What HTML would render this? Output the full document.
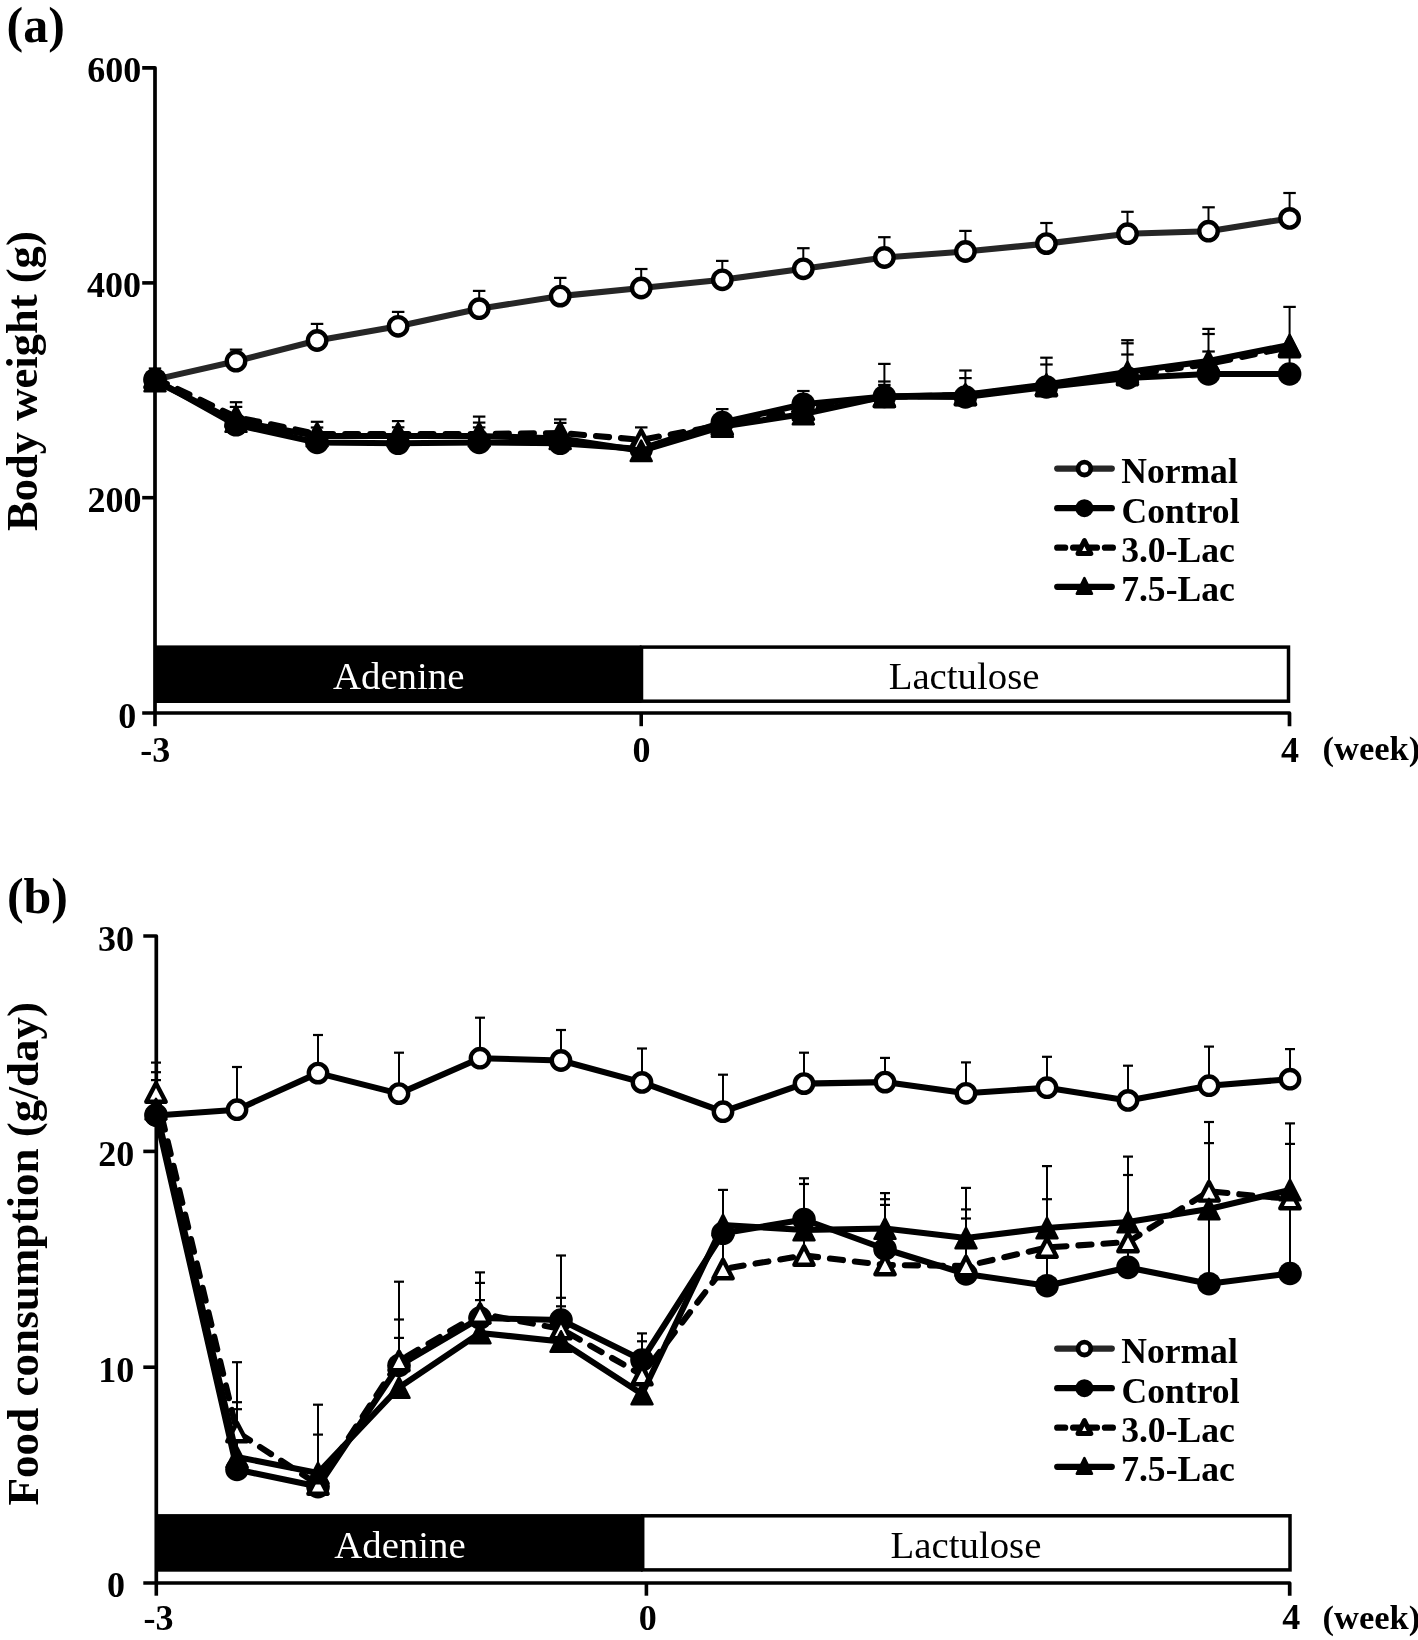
<!DOCTYPE html><html><head><meta charset="utf-8"><style>html,body{margin:0;padding:0;background:#fff;width:1418px;height:1640px;overflow:hidden;font-family:"Liberation Serif",serif}svg{display:block;filter:grayscale(1)}</style></head><body>
<svg width="1418" height="1640" viewBox="0 0 1418 1640">
<rect width="1418" height="1640" fill="#fff"/>
<path d="M142.2,67.8 H155 V713" fill="none" stroke="#000" stroke-width="3.7" stroke-linejoin="round"/>
<line x1="142.2" y1="282.9" x2="155" y2="282.9" stroke="#000" stroke-width="3.6"/>
<line x1="142.2" y1="497.7" x2="155" y2="497.7" stroke="#000" stroke-width="3.6"/>
<path d="M142.2,713 H1289.5 V726.2" fill="none" stroke="#000" stroke-width="3.7" stroke-linejoin="round"/>
<line x1="155" y1="713" x2="155" y2="726.2" stroke="#000" stroke-width="3.6"/>
<line x1="641.2" y1="713" x2="641.2" y2="726.2" stroke="#000" stroke-width="3.6"/>
<rect x="155" y="645.4" width="486.5" height="57.6" fill="#000"/>
<rect x="641.5" y="647.1" width="647" height="54.1" fill="#fff" stroke="#000" stroke-width="3.5"/>
<text x="398.7" y="689.2" font-size="38.8" font-weight="normal" text-anchor="middle" fill="#fff" font-family="Liberation Serif" >Adenine</text><text x="964.1" y="689.2" font-size="38.8" font-weight="normal" text-anchor="middle" fill="#000" font-family="Liberation Serif" >Lactulose</text>
<text x="141.3" y="82" font-size="36" font-weight="bold" text-anchor="end" fill="#000" font-family="Liberation Serif" >600</text>
<text x="141.1" y="297" font-size="36" font-weight="bold" text-anchor="end" fill="#000" font-family="Liberation Serif" >400</text>
<text x="141.5" y="512" font-size="36" font-weight="bold" text-anchor="end" fill="#000" font-family="Liberation Serif" >200</text>
<text x="136.3" y="728" font-size="36" font-weight="bold" text-anchor="end" fill="#000" font-family="Liberation Serif" >0</text>
<text x="155.3" y="762" font-size="36" font-weight="bold" text-anchor="middle" fill="#000" font-family="Liberation Serif" >-3</text>
<text x="641.6" y="762" font-size="36" font-weight="bold" text-anchor="middle" fill="#000" font-family="Liberation Serif" >0</text>
<text x="1290.1" y="761.5" font-size="36" font-weight="bold" text-anchor="middle" fill="#000" font-family="Liberation Serif" >4</text>
<text x="1322.5" y="759.5" font-size="34.5" font-weight="bold" text-anchor="start" fill="#000" font-family="Liberation Serif" >(week)</text>
<text x="6.6" y="42" font-size="50" font-weight="bold" text-anchor="start" fill="#000" font-family="Liberation Serif" >(a)</text>
<text transform="translate(37.3,531) rotate(-90)" font-size="44.6" font-weight="bold" font-family="Liberation Serif">Body weight (g)</text>
<polyline points="155,379.6 236,361.2 317.1,340.5 398.1,326.3 479.2,308.7 560.2,296.1 641.2,288 722.3,279.8 803.3,268.8 884.4,257.5 965.4,251.5 1046.4,243.6 1127.5,233.7 1208.5,231.2 1289.6,218.4" fill="none" stroke="#262626" stroke-width="6.1" stroke-linejoin="round"/>
<line x1="155" y1="379.6" x2="155" y2="368.5" stroke="#000" stroke-width="2"/><line x1="148.8" y1="368.5" x2="161.2" y2="368.5" stroke="#000" stroke-width="2.2"/>
<line x1="236" y1="361.2" x2="236" y2="349.6" stroke="#000" stroke-width="2"/><line x1="229.8" y1="349.6" x2="242.3" y2="349.6" stroke="#000" stroke-width="2.2"/>
<line x1="317.1" y1="340.5" x2="317.1" y2="323.9" stroke="#000" stroke-width="2"/><line x1="310.8" y1="323.9" x2="323.3" y2="323.9" stroke="#000" stroke-width="2.2"/>
<line x1="398.1" y1="326.3" x2="398.1" y2="311.9" stroke="#000" stroke-width="2"/><line x1="391.9" y1="311.9" x2="404.4" y2="311.9" stroke="#000" stroke-width="2.2"/>
<line x1="479.2" y1="308.7" x2="479.2" y2="290.9" stroke="#000" stroke-width="2"/><line x1="472.9" y1="290.9" x2="485.4" y2="290.9" stroke="#000" stroke-width="2.2"/>
<line x1="560.2" y1="296.1" x2="560.2" y2="277.9" stroke="#000" stroke-width="2"/><line x1="554" y1="277.9" x2="566.5" y2="277.9" stroke="#000" stroke-width="2.2"/>
<line x1="641.2" y1="288" x2="641.2" y2="269" stroke="#000" stroke-width="2"/><line x1="635" y1="269" x2="647.5" y2="269" stroke="#000" stroke-width="2.2"/>
<line x1="722.3" y1="279.8" x2="722.3" y2="260.9" stroke="#000" stroke-width="2"/><line x1="716" y1="260.9" x2="728.5" y2="260.9" stroke="#000" stroke-width="2.2"/>
<line x1="803.3" y1="268.8" x2="803.3" y2="248.2" stroke="#000" stroke-width="2"/><line x1="797.1" y1="248.2" x2="809.6" y2="248.2" stroke="#000" stroke-width="2.2"/>
<line x1="884.4" y1="257.5" x2="884.4" y2="237.2" stroke="#000" stroke-width="2"/><line x1="878.1" y1="237.2" x2="890.6" y2="237.2" stroke="#000" stroke-width="2.2"/>
<line x1="965.4" y1="251.5" x2="965.4" y2="230.9" stroke="#000" stroke-width="2"/><line x1="959.2" y1="230.9" x2="971.7" y2="230.9" stroke="#000" stroke-width="2.2"/>
<line x1="1046.4" y1="243.6" x2="1046.4" y2="223" stroke="#000" stroke-width="2"/><line x1="1040.2" y1="223" x2="1052.7" y2="223" stroke="#000" stroke-width="2.2"/>
<line x1="1127.5" y1="233.7" x2="1127.5" y2="211.8" stroke="#000" stroke-width="2"/><line x1="1121.2" y1="211.8" x2="1133.7" y2="211.8" stroke="#000" stroke-width="2.2"/>
<line x1="1208.5" y1="231.2" x2="1208.5" y2="207.3" stroke="#000" stroke-width="2"/><line x1="1202.3" y1="207.3" x2="1214.8" y2="207.3" stroke="#000" stroke-width="2.2"/>
<line x1="1289.6" y1="218.4" x2="1289.6" y2="193" stroke="#000" stroke-width="2"/><line x1="1283.3" y1="193" x2="1295.8" y2="193" stroke="#000" stroke-width="2.2"/>
<circle cx="155" cy="379.6" r="9.2" fill="#fff" stroke="#000" stroke-width="4.4"/>
<circle cx="236" cy="361.2" r="9.2" fill="#fff" stroke="#000" stroke-width="4.4"/>
<circle cx="317.1" cy="340.5" r="9.2" fill="#fff" stroke="#000" stroke-width="4.4"/>
<circle cx="398.1" cy="326.3" r="9.2" fill="#fff" stroke="#000" stroke-width="4.4"/>
<circle cx="479.2" cy="308.7" r="9.2" fill="#fff" stroke="#000" stroke-width="4.4"/>
<circle cx="560.2" cy="296.1" r="9.2" fill="#fff" stroke="#000" stroke-width="4.4"/>
<circle cx="641.2" cy="288" r="9.2" fill="#fff" stroke="#000" stroke-width="4.4"/>
<circle cx="722.3" cy="279.8" r="9.2" fill="#fff" stroke="#000" stroke-width="4.4"/>
<circle cx="803.3" cy="268.8" r="9.2" fill="#fff" stroke="#000" stroke-width="4.4"/>
<circle cx="884.4" cy="257.5" r="9.2" fill="#fff" stroke="#000" stroke-width="4.4"/>
<circle cx="965.4" cy="251.5" r="9.2" fill="#fff" stroke="#000" stroke-width="4.4"/>
<circle cx="1046.4" cy="243.6" r="9.2" fill="#fff" stroke="#000" stroke-width="4.4"/>
<circle cx="1127.5" cy="233.7" r="9.2" fill="#fff" stroke="#000" stroke-width="4.4"/>
<circle cx="1208.5" cy="231.2" r="9.2" fill="#fff" stroke="#000" stroke-width="4.4"/>
<circle cx="1289.6" cy="218.4" r="9.2" fill="#fff" stroke="#000" stroke-width="4.4"/>
<line x1="236" y1="424.8" x2="236" y2="402.2" stroke="#000" stroke-width="2"/><line x1="229.8" y1="402.2" x2="242.3" y2="402.2" stroke="#000" stroke-width="2.2"/><line x1="229.8" y1="406.9" x2="242.3" y2="406.9" stroke="#000" stroke-width="2.2"/>
<line x1="317.1" y1="442.5" x2="317.1" y2="421.8" stroke="#000" stroke-width="2"/><line x1="310.8" y1="421.8" x2="323.3" y2="421.8" stroke="#000" stroke-width="2.2"/><line x1="310.8" y1="427.5" x2="323.3" y2="427.5" stroke="#000" stroke-width="2.2"/>
<line x1="398.1" y1="443.3" x2="398.1" y2="421.1" stroke="#000" stroke-width="2"/><line x1="391.9" y1="421.1" x2="404.4" y2="421.1" stroke="#000" stroke-width="2.2"/><line x1="391.9" y1="427.3" x2="404.4" y2="427.3" stroke="#000" stroke-width="2.2"/>
<line x1="479.2" y1="442.5" x2="479.2" y2="416.6" stroke="#000" stroke-width="2"/><line x1="472.9" y1="416.6" x2="485.4" y2="416.6" stroke="#000" stroke-width="2.2"/><line x1="472.9" y1="422.6" x2="485.4" y2="422.6" stroke="#000" stroke-width="2.2"/><line x1="472.9" y1="427.4" x2="485.4" y2="427.4" stroke="#000" stroke-width="2.2"/>
<line x1="560.2" y1="443.3" x2="560.2" y2="419.4" stroke="#000" stroke-width="2"/><line x1="554" y1="419.4" x2="566.5" y2="419.4" stroke="#000" stroke-width="2.2"/><line x1="554" y1="422.9" x2="566.5" y2="422.9" stroke="#000" stroke-width="2.2"/>
<line x1="641.2" y1="450.8" x2="641.2" y2="427.4" stroke="#000" stroke-width="2"/><line x1="635" y1="427.4" x2="647.5" y2="427.4" stroke="#000" stroke-width="2.2"/>
<line x1="722.3" y1="426.5" x2="722.3" y2="409.1" stroke="#000" stroke-width="2"/><line x1="716" y1="409.1" x2="728.5" y2="409.1" stroke="#000" stroke-width="2.2"/>
<line x1="803.3" y1="414" x2="803.3" y2="391" stroke="#000" stroke-width="2"/><line x1="797.1" y1="391" x2="809.6" y2="391" stroke="#000" stroke-width="2.2"/>
<line x1="884.4" y1="397" x2="884.4" y2="363.9" stroke="#000" stroke-width="2"/><line x1="878.1" y1="363.9" x2="890.6" y2="363.9" stroke="#000" stroke-width="2.2"/><line x1="878.1" y1="381.5" x2="890.6" y2="381.5" stroke="#000" stroke-width="2.2"/><line x1="878.1" y1="384.9" x2="890.6" y2="384.9" stroke="#000" stroke-width="2.2"/>
<line x1="965.4" y1="397" x2="965.4" y2="370.5" stroke="#000" stroke-width="2"/><line x1="959.2" y1="370.5" x2="971.7" y2="370.5" stroke="#000" stroke-width="2.2"/><line x1="959.2" y1="378.1" x2="971.7" y2="378.1" stroke="#000" stroke-width="2.2"/>
<line x1="1046.4" y1="387" x2="1046.4" y2="357.7" stroke="#000" stroke-width="2"/><line x1="1040.2" y1="357.7" x2="1052.7" y2="357.7" stroke="#000" stroke-width="2.2"/><line x1="1040.2" y1="364.5" x2="1052.7" y2="364.5" stroke="#000" stroke-width="2.2"/>
<line x1="1127.5" y1="378" x2="1127.5" y2="340.2" stroke="#000" stroke-width="2"/><line x1="1121.2" y1="340.2" x2="1133.7" y2="340.2" stroke="#000" stroke-width="2.2"/><line x1="1121.2" y1="343.3" x2="1133.7" y2="343.3" stroke="#000" stroke-width="2.2"/><line x1="1121.2" y1="354.5" x2="1133.7" y2="354.5" stroke="#000" stroke-width="2.2"/>
<line x1="1208.5" y1="374" x2="1208.5" y2="328.9" stroke="#000" stroke-width="2"/><line x1="1202.3" y1="328.9" x2="1214.8" y2="328.9" stroke="#000" stroke-width="2.2"/><line x1="1202.3" y1="334" x2="1214.8" y2="334" stroke="#000" stroke-width="2.2"/><line x1="1202.3" y1="351.5" x2="1214.8" y2="351.5" stroke="#000" stroke-width="2.2"/>
<line x1="1289.6" y1="374" x2="1289.6" y2="306.9" stroke="#000" stroke-width="2"/><line x1="1283.3" y1="306.9" x2="1295.8" y2="306.9" stroke="#000" stroke-width="2.2"/>
<polyline points="155,379.7 236,424.8 317.1,442.5 398.1,443.3 479.2,442.5 560.2,443.3 641.2,449 722.3,422.5 803.3,404.2 884.4,396.5 965.4,397 1046.4,387 1127.5,378 1208.5,374 1289.6,374" fill="none" stroke="#000" stroke-width="6.1" stroke-linejoin="round"/>
<circle cx="155" cy="379.7" r="11.8" fill="#000"/>
<circle cx="236" cy="424.8" r="11.8" fill="#000"/>
<circle cx="317.1" cy="442.5" r="11.8" fill="#000"/>
<circle cx="398.1" cy="443.3" r="11.8" fill="#000"/>
<circle cx="479.2" cy="442.5" r="11.8" fill="#000"/>
<circle cx="560.2" cy="443.3" r="11.8" fill="#000"/>
<circle cx="641.2" cy="449" r="11.8" fill="#000"/>
<circle cx="722.3" cy="422.5" r="11.8" fill="#000"/>
<circle cx="803.3" cy="404.2" r="11.8" fill="#000"/>
<circle cx="884.4" cy="396.5" r="11.8" fill="#000"/>
<circle cx="965.4" cy="397" r="11.8" fill="#000"/>
<circle cx="1046.4" cy="387" r="11.8" fill="#000"/>
<circle cx="1127.5" cy="378" r="11.8" fill="#000"/>
<circle cx="1208.5" cy="374" r="11.8" fill="#000"/>
<circle cx="1289.6" cy="374" r="11.8" fill="#000"/>
<polyline points="155,378 236,417 317.1,434 398.1,434 479.2,434 560.2,433 641.2,439.8 722.3,425 803.3,410 884.4,397 965.4,395 1046.4,386 1127.5,375 1208.5,364 1289.6,347" fill="none" stroke="#000" stroke-width="6.1" stroke-linejoin="round" stroke-linecap="round" stroke-dasharray="13.1 12"/>
<polygon points="155,368.7 164.7,387.3 145.3,387.3" fill="#fff" stroke="#000" stroke-width="4.4" stroke-linejoin="round"/>
<polygon points="236,407.7 245.7,426.3 226.4,426.3" fill="#fff" stroke="#000" stroke-width="4.4" stroke-linejoin="round"/>
<polygon points="317.1,424.7 326.7,443.3 307.4,443.3" fill="#fff" stroke="#000" stroke-width="4.4" stroke-linejoin="round"/>
<polygon points="398.1,424.7 407.8,443.3 388.5,443.3" fill="#fff" stroke="#000" stroke-width="4.4" stroke-linejoin="round"/>
<polygon points="479.2,424.7 488.8,443.3 469.5,443.3" fill="#fff" stroke="#000" stroke-width="4.4" stroke-linejoin="round"/>
<polygon points="560.2,423.7 569.9,442.3 550.6,442.3" fill="#fff" stroke="#000" stroke-width="4.4" stroke-linejoin="round"/>
<polygon points="641.2,430.5 650.9,449.1 631.6,449.1" fill="#fff" stroke="#000" stroke-width="4.4" stroke-linejoin="round"/>
<polygon points="722.3,415.7 731.9,434.3 712.6,434.3" fill="#fff" stroke="#000" stroke-width="4.4" stroke-linejoin="round"/>
<polygon points="803.3,400.7 813,419.3 793.7,419.3" fill="#fff" stroke="#000" stroke-width="4.4" stroke-linejoin="round"/>
<polygon points="884.4,387.7 894,406.3 874.7,406.3" fill="#fff" stroke="#000" stroke-width="4.4" stroke-linejoin="round"/>
<polygon points="965.4,385.7 975.1,404.3 955.8,404.3" fill="#fff" stroke="#000" stroke-width="4.4" stroke-linejoin="round"/>
<polygon points="1046.4,376.7 1056.1,395.3 1036.8,395.3" fill="#fff" stroke="#000" stroke-width="4.4" stroke-linejoin="round"/>
<polygon points="1127.5,365.7 1137.1,384.3 1117.8,384.3" fill="#fff" stroke="#000" stroke-width="4.4" stroke-linejoin="round"/>
<polygon points="1208.5,354.7 1218.2,373.3 1198.9,373.3" fill="#fff" stroke="#000" stroke-width="4.4" stroke-linejoin="round"/>
<polygon points="1289.6,337.7 1299.2,356.3 1279.9,356.3" fill="#fff" stroke="#000" stroke-width="4.4" stroke-linejoin="round"/>
<polyline points="155,381 236,421.5 317.1,436 398.1,436 479.2,436 560.2,438.6 641.2,450.8 722.3,426.5 803.3,414 884.4,396.5 965.4,394.7 1046.4,384.5 1127.5,372 1208.5,361 1289.6,345" fill="none" stroke="#000" stroke-width="6.1" stroke-linejoin="round"/>
<polygon points="155,370.8 165.5,391.2 144.5,391.2" fill="#000" stroke="#000" stroke-width="2.5" stroke-linejoin="round"/>
<polygon points="236,411.2 246.5,431.8 225.5,431.8" fill="#000" stroke="#000" stroke-width="2.5" stroke-linejoin="round"/>
<polygon points="317.1,425.8 327.6,446.2 306.6,446.2" fill="#000" stroke="#000" stroke-width="2.5" stroke-linejoin="round"/>
<polygon points="398.1,425.8 408.6,446.2 387.6,446.2" fill="#000" stroke="#000" stroke-width="2.5" stroke-linejoin="round"/>
<polygon points="479.2,425.8 489.7,446.2 468.7,446.2" fill="#000" stroke="#000" stroke-width="2.5" stroke-linejoin="round"/>
<polygon points="560.2,428.4 570.7,448.9 549.7,448.9" fill="#000" stroke="#000" stroke-width="2.5" stroke-linejoin="round"/>
<polygon points="641.2,440.6 651.7,461.1 630.7,461.1" fill="#000" stroke="#000" stroke-width="2.5" stroke-linejoin="round"/>
<polygon points="722.3,416.2 732.8,436.8 711.8,436.8" fill="#000" stroke="#000" stroke-width="2.5" stroke-linejoin="round"/>
<polygon points="803.3,403.8 813.8,424.2 792.8,424.2" fill="#000" stroke="#000" stroke-width="2.5" stroke-linejoin="round"/>
<polygon points="884.4,386.2 894.9,406.8 873.9,406.8" fill="#000" stroke="#000" stroke-width="2.5" stroke-linejoin="round"/>
<polygon points="965.4,384.4 975.9,404.9 954.9,404.9" fill="#000" stroke="#000" stroke-width="2.5" stroke-linejoin="round"/>
<polygon points="1046.4,374.2 1056.9,394.8 1035.9,394.8" fill="#000" stroke="#000" stroke-width="2.5" stroke-linejoin="round"/>
<polygon points="1127.5,361.8 1138,382.2 1117,382.2" fill="#000" stroke="#000" stroke-width="2.5" stroke-linejoin="round"/>
<polygon points="1208.5,350.8 1219,371.2 1198,371.2" fill="#000" stroke="#000" stroke-width="2.5" stroke-linejoin="round"/>
<polygon points="1289.6,334.8 1300.1,355.2 1279.1,355.2" fill="#000" stroke="#000" stroke-width="2.5" stroke-linejoin="round"/>
<line x1="1057.2" y1="468.6" x2="1111.8" y2="468.6" stroke="#262626" stroke-width="6.2" stroke-linecap="round"/>
<circle cx="1084.4" cy="468.6" r="6.4" fill="#fff" stroke="#000" stroke-width="4.8"/>
<line x1="1057.2" y1="508.2" x2="1111.8" y2="508.2" stroke="#000" stroke-width="6.2" stroke-linecap="round"/>
<circle cx="1084.4" cy="508.2" r="9" fill="#000"/>
<line x1="1057.2" y1="547.7" x2="1112.9" y2="547.7" stroke="#000" stroke-width="6.2" stroke-linecap="round" stroke-dasharray="8 7.9"/>
<polygon points="1084.4,540.6 1090.8,553.6 1078,553.6" fill="#fff" stroke="#000" stroke-width="5" stroke-linejoin="round"/>
<line x1="1057.2" y1="586.8" x2="1111.8" y2="586.8" stroke="#000" stroke-width="6.2" stroke-linecap="round"/>
<polygon points="1084.4,578.1 1092,593.7 1076.8,593.7" fill="#000" stroke="#000" stroke-width="2.5" stroke-linejoin="round"/>
<text x="1121.2" y="482.5" font-size="35.6" font-weight="bold" text-anchor="start" fill="#000" font-family="Liberation Serif" >Normal</text>
<text x="1121.6" y="522.5" font-size="35.6" font-weight="bold" text-anchor="start" fill="#000" font-family="Liberation Serif" >Control</text>
<text x="1121.2" y="561.5" font-size="35.6" font-weight="bold" text-anchor="start" fill="#000" font-family="Liberation Serif" >3.0-Lac</text>
<text x="1121.2" y="600.8" font-size="35.6" font-weight="bold" text-anchor="start" fill="#000" font-family="Liberation Serif" >7.5-Lac</text>
<path d="M143.3,936 H156.3 V1583" fill="none" stroke="#000" stroke-width="3.7" stroke-linejoin="round"/>
<line x1="143.3" y1="1151.4" x2="156.3" y2="1151.4" stroke="#000" stroke-width="3.6"/>
<line x1="143.3" y1="1367.2" x2="156.3" y2="1367.2" stroke="#000" stroke-width="3.6"/>
<path d="M143.3,1583 H1289.7 V1595.7" fill="none" stroke="#000" stroke-width="3.7" stroke-linejoin="round"/>
<line x1="156.3" y1="1583" x2="156.3" y2="1595.7" stroke="#000" stroke-width="3.6"/>
<line x1="646.4" y1="1583" x2="646.4" y2="1595.7" stroke="#000" stroke-width="3.6"/>
<rect x="156.3" y="1514.1" width="486.4" height="57.6" fill="#000"/>
<rect x="642.7" y="1515.8" width="647.3" height="54.1" fill="#fff" stroke="#000" stroke-width="3.5"/>
<text x="400" y="1558.2" font-size="38.8" font-weight="normal" text-anchor="middle" fill="#fff" font-family="Liberation Serif" >Adenine</text><text x="966" y="1558.2" font-size="38.8" font-weight="normal" text-anchor="middle" fill="#000" font-family="Liberation Serif" >Lactulose</text>
<text x="134" y="951.3" font-size="36" font-weight="bold" text-anchor="end" fill="#000" font-family="Liberation Serif" >30</text>
<text x="134.3" y="1165.8" font-size="36" font-weight="bold" text-anchor="end" fill="#000" font-family="Liberation Serif" >20</text>
<text x="134.3" y="1381.6" font-size="36" font-weight="bold" text-anchor="end" fill="#000" font-family="Liberation Serif" >10</text>
<text x="125" y="1596.8" font-size="36" font-weight="bold" text-anchor="end" fill="#000" font-family="Liberation Serif" >0</text>
<text x="158.6" y="1629.6" font-size="36" font-weight="bold" text-anchor="middle" fill="#000" font-family="Liberation Serif" >-3</text>
<text x="647.8" y="1629.6" font-size="36" font-weight="bold" text-anchor="middle" fill="#000" font-family="Liberation Serif" >0</text>
<text x="1291.2" y="1629.3" font-size="36" font-weight="bold" text-anchor="middle" fill="#000" font-family="Liberation Serif" >4</text>
<text x="1322.5" y="1628.5" font-size="34.5" font-weight="bold" text-anchor="start" fill="#000" font-family="Liberation Serif" >(week)</text>
<text x="6.9" y="912.8" font-size="50" font-weight="bold" text-anchor="start" fill="#000" font-family="Liberation Serif" >(b)</text>
<text transform="translate(38,1505.5) rotate(-90)" font-size="45.1" font-weight="bold" font-family="Liberation Serif">Food consumption (g/day)</text>
<polyline points="156,1115.5 237,1109.7 318,1073.1 399,1093.6 480,1058.2 561,1060.5 642,1082.4 723,1111.7 804,1083.6 885,1082.1 966,1093.3 1047,1087.7 1128,1100.4 1209,1085.7 1290,1079.2" fill="none" stroke="#000" stroke-width="6.1" stroke-linejoin="round"/>
<line x1="237" y1="1109.7" x2="237" y2="1067" stroke="#000" stroke-width="2"/><line x1="232" y1="1067" x2="242" y2="1067" stroke="#000" stroke-width="2.2"/>
<line x1="318" y1="1073.1" x2="318" y2="1035" stroke="#000" stroke-width="2"/><line x1="313" y1="1035" x2="323" y2="1035" stroke="#000" stroke-width="2.2"/>
<line x1="399" y1="1093.6" x2="399" y2="1052.7" stroke="#000" stroke-width="2"/><line x1="394" y1="1052.7" x2="404" y2="1052.7" stroke="#000" stroke-width="2.2"/>
<line x1="480" y1="1058.2" x2="480" y2="1017.7" stroke="#000" stroke-width="2"/><line x1="475" y1="1017.7" x2="485" y2="1017.7" stroke="#000" stroke-width="2.2"/>
<line x1="561" y1="1060.5" x2="561" y2="1030" stroke="#000" stroke-width="2"/><line x1="556" y1="1030" x2="566" y2="1030" stroke="#000" stroke-width="2.2"/>
<line x1="642" y1="1082.4" x2="642" y2="1048.5" stroke="#000" stroke-width="2"/><line x1="637" y1="1048.5" x2="647" y2="1048.5" stroke="#000" stroke-width="2.2"/>
<line x1="723" y1="1111.7" x2="723" y2="1074.7" stroke="#000" stroke-width="2"/><line x1="718" y1="1074.7" x2="728" y2="1074.7" stroke="#000" stroke-width="2.2"/>
<line x1="804" y1="1083.6" x2="804" y2="1052.7" stroke="#000" stroke-width="2"/><line x1="799" y1="1052.7" x2="809" y2="1052.7" stroke="#000" stroke-width="2.2"/>
<line x1="885" y1="1082.1" x2="885" y2="1057.9" stroke="#000" stroke-width="2"/><line x1="880" y1="1057.9" x2="890" y2="1057.9" stroke="#000" stroke-width="2.2"/>
<line x1="966" y1="1093.3" x2="966" y2="1062.4" stroke="#000" stroke-width="2"/><line x1="961" y1="1062.4" x2="971" y2="1062.4" stroke="#000" stroke-width="2.2"/>
<line x1="1047" y1="1087.7" x2="1047" y2="1056.8" stroke="#000" stroke-width="2"/><line x1="1042" y1="1056.8" x2="1052" y2="1056.8" stroke="#000" stroke-width="2.2"/>
<line x1="1128" y1="1100.4" x2="1128" y2="1065.7" stroke="#000" stroke-width="2"/><line x1="1123" y1="1065.7" x2="1133" y2="1065.7" stroke="#000" stroke-width="2.2"/>
<line x1="1209" y1="1085.7" x2="1209" y2="1046.6" stroke="#000" stroke-width="2"/><line x1="1204" y1="1046.6" x2="1214" y2="1046.6" stroke="#000" stroke-width="2.2"/>
<line x1="1290" y1="1079.2" x2="1290" y2="1049.1" stroke="#000" stroke-width="2"/><line x1="1285" y1="1049.1" x2="1295" y2="1049.1" stroke="#000" stroke-width="2.2"/>
<circle cx="156" cy="1115.5" r="9.2" fill="#fff" stroke="#000" stroke-width="4.4"/>
<circle cx="237" cy="1109.7" r="9.2" fill="#fff" stroke="#000" stroke-width="4.4"/>
<circle cx="318" cy="1073.1" r="9.2" fill="#fff" stroke="#000" stroke-width="4.4"/>
<circle cx="399" cy="1093.6" r="9.2" fill="#fff" stroke="#000" stroke-width="4.4"/>
<circle cx="480" cy="1058.2" r="9.2" fill="#fff" stroke="#000" stroke-width="4.4"/>
<circle cx="561" cy="1060.5" r="9.2" fill="#fff" stroke="#000" stroke-width="4.4"/>
<circle cx="642" cy="1082.4" r="9.2" fill="#fff" stroke="#000" stroke-width="4.4"/>
<circle cx="723" cy="1111.7" r="9.2" fill="#fff" stroke="#000" stroke-width="4.4"/>
<circle cx="804" cy="1083.6" r="9.2" fill="#fff" stroke="#000" stroke-width="4.4"/>
<circle cx="885" cy="1082.1" r="9.2" fill="#fff" stroke="#000" stroke-width="4.4"/>
<circle cx="966" cy="1093.3" r="9.2" fill="#fff" stroke="#000" stroke-width="4.4"/>
<circle cx="1047" cy="1087.7" r="9.2" fill="#fff" stroke="#000" stroke-width="4.4"/>
<circle cx="1128" cy="1100.4" r="9.2" fill="#fff" stroke="#000" stroke-width="4.4"/>
<circle cx="1209" cy="1085.7" r="9.2" fill="#fff" stroke="#000" stroke-width="4.4"/>
<circle cx="1290" cy="1079.2" r="9.2" fill="#fff" stroke="#000" stroke-width="4.4"/>
<line x1="156" y1="1115" x2="156" y2="1062.6" stroke="#000" stroke-width="2"/><line x1="151" y1="1062.6" x2="161" y2="1062.6" stroke="#000" stroke-width="2.2"/><line x1="151" y1="1072.2" x2="161" y2="1072.2" stroke="#000" stroke-width="2.2"/><line x1="151" y1="1080.1" x2="161" y2="1080.1" stroke="#000" stroke-width="2.2"/>
<line x1="237" y1="1469.5" x2="237" y2="1362.2" stroke="#000" stroke-width="2"/><line x1="232" y1="1362.2" x2="242" y2="1362.2" stroke="#000" stroke-width="2.2"/><line x1="232" y1="1402.2" x2="242" y2="1402.2" stroke="#000" stroke-width="2.2"/><line x1="232" y1="1409.2" x2="242" y2="1409.2" stroke="#000" stroke-width="2.2"/>
<line x1="318" y1="1486.6" x2="318" y2="1404.7" stroke="#000" stroke-width="2"/><line x1="313" y1="1404.7" x2="323" y2="1404.7" stroke="#000" stroke-width="2.2"/><line x1="313" y1="1434.6" x2="323" y2="1434.6" stroke="#000" stroke-width="2.2"/>
<line x1="399" y1="1387.5" x2="399" y2="1281.7" stroke="#000" stroke-width="2"/><line x1="394" y1="1281.7" x2="404" y2="1281.7" stroke="#000" stroke-width="2.2"/><line x1="394" y1="1319.5" x2="404" y2="1319.5" stroke="#000" stroke-width="2.2"/><line x1="394" y1="1337.9" x2="404" y2="1337.9" stroke="#000" stroke-width="2.2"/>
<line x1="480" y1="1333" x2="480" y2="1272.4" stroke="#000" stroke-width="2"/><line x1="475" y1="1272.4" x2="485" y2="1272.4" stroke="#000" stroke-width="2.2"/><line x1="475" y1="1282.9" x2="485" y2="1282.9" stroke="#000" stroke-width="2.2"/><line x1="475" y1="1300.1" x2="485" y2="1300.1" stroke="#000" stroke-width="2.2"/>
<line x1="561" y1="1341.5" x2="561" y2="1255.5" stroke="#000" stroke-width="2"/><line x1="556" y1="1255.5" x2="566" y2="1255.5" stroke="#000" stroke-width="2.2"/><line x1="556" y1="1297.8" x2="566" y2="1297.8" stroke="#000" stroke-width="2.2"/><line x1="556" y1="1306.3" x2="566" y2="1306.3" stroke="#000" stroke-width="2.2"/>
<line x1="642" y1="1394" x2="642" y2="1333.4" stroke="#000" stroke-width="2"/><line x1="637" y1="1333.4" x2="647" y2="1333.4" stroke="#000" stroke-width="2.2"/><line x1="637" y1="1341.3" x2="647" y2="1341.3" stroke="#000" stroke-width="2.2"/>
<line x1="723" y1="1269" x2="723" y2="1189.9" stroke="#000" stroke-width="2"/><line x1="718" y1="1189.9" x2="728" y2="1189.9" stroke="#000" stroke-width="2.2"/>
<line x1="804" y1="1255.5" x2="804" y2="1178.3" stroke="#000" stroke-width="2"/><line x1="799" y1="1178.3" x2="809" y2="1178.3" stroke="#000" stroke-width="2.2"/><line x1="799" y1="1184" x2="809" y2="1184" stroke="#000" stroke-width="2.2"/>
<line x1="885" y1="1265" x2="885" y2="1193.1" stroke="#000" stroke-width="2"/><line x1="880" y1="1193.1" x2="890" y2="1193.1" stroke="#000" stroke-width="2.2"/><line x1="880" y1="1199.2" x2="890" y2="1199.2" stroke="#000" stroke-width="2.2"/><line x1="880" y1="1204.9" x2="890" y2="1204.9" stroke="#000" stroke-width="2.2"/>
<line x1="966" y1="1274" x2="966" y2="1187.9" stroke="#000" stroke-width="2"/><line x1="961" y1="1187.9" x2="971" y2="1187.9" stroke="#000" stroke-width="2.2"/><line x1="961" y1="1209.4" x2="971" y2="1209.4" stroke="#000" stroke-width="2.2"/><line x1="961" y1="1218.5" x2="971" y2="1218.5" stroke="#000" stroke-width="2.2"/>
<line x1="1047" y1="1285.7" x2="1047" y2="1166.1" stroke="#000" stroke-width="2"/><line x1="1042" y1="1166.1" x2="1052" y2="1166.1" stroke="#000" stroke-width="2.2"/><line x1="1042" y1="1199.2" x2="1052" y2="1199.2" stroke="#000" stroke-width="2.2"/>
<line x1="1128" y1="1267.4" x2="1128" y2="1156.6" stroke="#000" stroke-width="2"/><line x1="1123" y1="1156.6" x2="1133" y2="1156.6" stroke="#000" stroke-width="2.2"/><line x1="1123" y1="1175" x2="1133" y2="1175" stroke="#000" stroke-width="2.2"/>
<line x1="1209" y1="1283.7" x2="1209" y2="1122" stroke="#000" stroke-width="2"/><line x1="1204" y1="1122" x2="1214" y2="1122" stroke="#000" stroke-width="2.2"/><line x1="1204" y1="1143.1" x2="1214" y2="1143.1" stroke="#000" stroke-width="2.2"/>
<line x1="1290" y1="1273.5" x2="1290" y2="1123.4" stroke="#000" stroke-width="2"/><line x1="1285" y1="1123.4" x2="1295" y2="1123.4" stroke="#000" stroke-width="2.2"/><line x1="1285" y1="1143.9" x2="1295" y2="1143.9" stroke="#000" stroke-width="2.2"/>
<polyline points="156,1115 237,1469.5 318,1486.6 399,1365.5 480,1318 561,1320 642,1360 723,1233.3 804,1219.5 885,1249 966,1274 1047,1285.7 1128,1267.4 1209,1283.7 1290,1273.5" fill="none" stroke="#000" stroke-width="6.1" stroke-linejoin="round"/>
<circle cx="156" cy="1115" r="11.8" fill="#000"/>
<circle cx="237" cy="1469.5" r="11.8" fill="#000"/>
<circle cx="318" cy="1486.6" r="11.8" fill="#000"/>
<circle cx="399" cy="1365.5" r="11.8" fill="#000"/>
<circle cx="480" cy="1318" r="11.8" fill="#000"/>
<circle cx="561" cy="1320" r="11.8" fill="#000"/>
<circle cx="642" cy="1360" r="11.8" fill="#000"/>
<circle cx="723" cy="1233.3" r="11.8" fill="#000"/>
<circle cx="804" cy="1219.5" r="11.8" fill="#000"/>
<circle cx="885" cy="1249" r="11.8" fill="#000"/>
<circle cx="966" cy="1274" r="11.8" fill="#000"/>
<circle cx="1047" cy="1285.7" r="11.8" fill="#000"/>
<circle cx="1128" cy="1267.4" r="11.8" fill="#000"/>
<circle cx="1209" cy="1283.7" r="11.8" fill="#000"/>
<circle cx="1290" cy="1273.5" r="11.8" fill="#000"/>
<polyline points="156,1092.5 237,1432 318,1484.5 399,1361 480,1313.5 561,1329 642,1375 723,1269 804,1255.5 885,1265 966,1266 1047,1247.5 1128,1242 1209,1191.3 1290,1199" fill="none" stroke="#000" stroke-width="6.1" stroke-linejoin="round" stroke-linecap="round" stroke-dasharray="13.1 12"/>
<polygon points="156,1083.2 165.7,1101.8 146.3,1101.8" fill="#fff" stroke="#000" stroke-width="4.4" stroke-linejoin="round"/>
<polygon points="237,1422.7 246.7,1441.3 227.3,1441.3" fill="#fff" stroke="#000" stroke-width="4.4" stroke-linejoin="round"/>
<polygon points="318,1475.2 327.6,1493.8 308.4,1493.8" fill="#fff" stroke="#000" stroke-width="4.4" stroke-linejoin="round"/>
<polygon points="399,1351.7 408.6,1370.3 389.4,1370.3" fill="#fff" stroke="#000" stroke-width="4.4" stroke-linejoin="round"/>
<polygon points="480,1304.2 489.6,1322.8 470.4,1322.8" fill="#fff" stroke="#000" stroke-width="4.4" stroke-linejoin="round"/>
<polygon points="561,1319.7 570.6,1338.3 551.4,1338.3" fill="#fff" stroke="#000" stroke-width="4.4" stroke-linejoin="round"/>
<polygon points="642,1365.7 651.6,1384.3 632.4,1384.3" fill="#fff" stroke="#000" stroke-width="4.4" stroke-linejoin="round"/>
<polygon points="723,1259.7 732.6,1278.3 713.4,1278.3" fill="#fff" stroke="#000" stroke-width="4.4" stroke-linejoin="round"/>
<polygon points="804,1246.2 813.6,1264.8 794.4,1264.8" fill="#fff" stroke="#000" stroke-width="4.4" stroke-linejoin="round"/>
<polygon points="885,1255.7 894.6,1274.3 875.4,1274.3" fill="#fff" stroke="#000" stroke-width="4.4" stroke-linejoin="round"/>
<polygon points="966,1256.7 975.6,1275.3 956.4,1275.3" fill="#fff" stroke="#000" stroke-width="4.4" stroke-linejoin="round"/>
<polygon points="1047,1238.2 1056.7,1256.8 1037.3,1256.8" fill="#fff" stroke="#000" stroke-width="4.4" stroke-linejoin="round"/>
<polygon points="1128,1232.7 1137.7,1251.3 1118.3,1251.3" fill="#fff" stroke="#000" stroke-width="4.4" stroke-linejoin="round"/>
<polygon points="1209,1182 1218.7,1200.6 1199.3,1200.6" fill="#fff" stroke="#000" stroke-width="4.4" stroke-linejoin="round"/>
<polygon points="1290,1189.7 1299.7,1208.3 1280.3,1208.3" fill="#fff" stroke="#000" stroke-width="4.4" stroke-linejoin="round"/>
<polyline points="156,1109 237,1457 318,1473 399,1387.5 480,1333 561,1341.5 642,1394 723,1225 804,1230 885,1228.5 966,1238 1047,1228 1128,1222 1209,1209 1290,1190" fill="none" stroke="#000" stroke-width="6.1" stroke-linejoin="round"/>
<polygon points="156,1098.8 166.5,1119.2 145.5,1119.2" fill="#000" stroke="#000" stroke-width="2.5" stroke-linejoin="round"/>
<polygon points="237,1446.8 247.5,1467.2 226.5,1467.2" fill="#000" stroke="#000" stroke-width="2.5" stroke-linejoin="round"/>
<polygon points="318,1462.8 328.5,1483.2 307.5,1483.2" fill="#000" stroke="#000" stroke-width="2.5" stroke-linejoin="round"/>
<polygon points="399,1377.2 409.5,1397.8 388.5,1397.8" fill="#000" stroke="#000" stroke-width="2.5" stroke-linejoin="round"/>
<polygon points="480,1322.8 490.5,1343.2 469.5,1343.2" fill="#000" stroke="#000" stroke-width="2.5" stroke-linejoin="round"/>
<polygon points="561,1331.2 571.5,1351.8 550.5,1351.8" fill="#000" stroke="#000" stroke-width="2.5" stroke-linejoin="round"/>
<polygon points="642,1383.8 652.5,1404.2 631.5,1404.2" fill="#000" stroke="#000" stroke-width="2.5" stroke-linejoin="round"/>
<polygon points="723,1214.8 733.5,1235.2 712.5,1235.2" fill="#000" stroke="#000" stroke-width="2.5" stroke-linejoin="round"/>
<polygon points="804,1219.8 814.5,1240.2 793.5,1240.2" fill="#000" stroke="#000" stroke-width="2.5" stroke-linejoin="round"/>
<polygon points="885,1218.2 895.5,1238.8 874.5,1238.8" fill="#000" stroke="#000" stroke-width="2.5" stroke-linejoin="round"/>
<polygon points="966,1227.8 976.5,1248.2 955.5,1248.2" fill="#000" stroke="#000" stroke-width="2.5" stroke-linejoin="round"/>
<polygon points="1047,1217.8 1057.5,1238.2 1036.5,1238.2" fill="#000" stroke="#000" stroke-width="2.5" stroke-linejoin="round"/>
<polygon points="1128,1211.8 1138.5,1232.2 1117.5,1232.2" fill="#000" stroke="#000" stroke-width="2.5" stroke-linejoin="round"/>
<polygon points="1209,1198.8 1219.5,1219.2 1198.5,1219.2" fill="#000" stroke="#000" stroke-width="2.5" stroke-linejoin="round"/>
<polygon points="1290,1179.8 1300.5,1200.2 1279.5,1200.2" fill="#000" stroke="#000" stroke-width="2.5" stroke-linejoin="round"/>
<line x1="1057.2" y1="1348.6" x2="1111.8" y2="1348.6" stroke="#262626" stroke-width="6.2" stroke-linecap="round"/>
<circle cx="1084.4" cy="1348.6" r="6.4" fill="#fff" stroke="#000" stroke-width="4.8"/>
<line x1="1057.2" y1="1388.2" x2="1111.8" y2="1388.2" stroke="#000" stroke-width="6.2" stroke-linecap="round"/>
<circle cx="1084.4" cy="1388.2" r="9" fill="#000"/>
<line x1="1057.2" y1="1427.7" x2="1112.9" y2="1427.7" stroke="#000" stroke-width="6.2" stroke-linecap="round" stroke-dasharray="8 7.9"/>
<polygon points="1084.4,1420.6 1090.8,1433.6 1078,1433.6" fill="#fff" stroke="#000" stroke-width="5" stroke-linejoin="round"/>
<line x1="1057.2" y1="1466.8" x2="1111.8" y2="1466.8" stroke="#000" stroke-width="6.2" stroke-linecap="round"/>
<polygon points="1084.4,1458.1 1092,1473.7 1076.8,1473.7" fill="#000" stroke="#000" stroke-width="2.5" stroke-linejoin="round"/>
<text x="1121.2" y="1362.5" font-size="35.6" font-weight="bold" text-anchor="start" fill="#000" font-family="Liberation Serif" >Normal</text>
<text x="1121.6" y="1402.5" font-size="35.6" font-weight="bold" text-anchor="start" fill="#000" font-family="Liberation Serif" >Control</text>
<text x="1121.2" y="1441.5" font-size="35.6" font-weight="bold" text-anchor="start" fill="#000" font-family="Liberation Serif" >3.0-Lac</text>
<text x="1121.2" y="1480.8" font-size="35.6" font-weight="bold" text-anchor="start" fill="#000" font-family="Liberation Serif" >7.5-Lac</text>
</svg></body></html>
